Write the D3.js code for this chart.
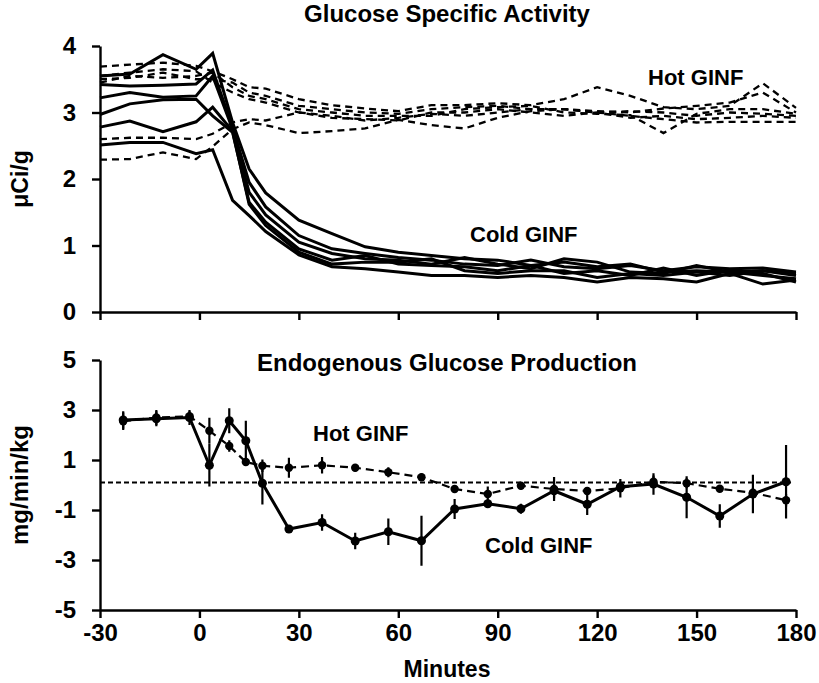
<!DOCTYPE html>
<html>
<head>
<meta charset="utf-8">
<script src="https://cdn.jsdelivr.net/npm/d3@7"></script>
<style>
  html, body { margin: 0; padding: 0; background: #fff; }
  svg { display: block; }
  text { font-family: "Liberation Sans", Arial, Helvetica, sans-serif; font-weight: bold; fill: #000; }
</style>
</head>
<body>
<svg id="chart" width="819" height="683"></svg>
<script>
// ---------- DATA ----------
// Top panel: Glucose specific activity (µCi/g), individual subjects
const saTimes = [-30, -21, -11, -1, 4, 10, 15, 20, 30, 40, 50, 60, 70, 80, 90, 100, 110, 120, 130, 140, 150, 160, 170, 180];
const cold1 = [3.55, 3.58, 3.87, 3.65, 3.89, 2.85, 2.15, 1.79, 1.38, 1.18, 0.98, 0.90, 0.85, 0.80, 0.78, 0.70, 0.75, 0.68, 0.72, 0.60, 0.62, 0.60, 0.62, 0.58];
const cold2 = [3.42, 3.40, 3.41, 3.43, 3.64, 2.78, 1.95, 1.58, 1.15, 0.95, 0.88, 0.82, 0.78, 0.72, 0.70, 0.78, 0.68, 0.65, 0.70, 0.62, 0.68, 0.65, 0.66, 0.60];
const cold3 = [3.22, 3.30, 3.23, 3.25, 3.55, 2.75, 1.80, 1.46, 1.05, 0.88, 0.80, 0.78, 0.72, 0.82, 0.72, 0.65, 0.80, 0.75, 0.60, 0.58, 0.70, 0.60, 0.55, 0.50];
const cold4 = [2.97, 3.13, 3.19, 3.20, 2.95, 2.70, 1.65, 1.35, 0.95, 0.78, 0.85, 0.72, 0.70, 0.68, 0.62, 0.70, 0.58, 0.62, 0.55, 0.66, 0.55, 0.63, 0.58, 0.45];
const cold5 = [2.78, 2.87, 2.71, 2.86, 3.08, 2.72, 1.62, 1.30, 0.90, 0.72, 0.75, 0.75, 0.80, 0.62, 0.58, 0.62, 0.62, 0.52, 0.58, 0.55, 0.60, 0.55, 0.62, 0.55];
const cold6 = [2.51, 2.55, 2.55, 2.38, 2.44, 1.68, 1.45, 1.21, 0.86, 0.68, 0.65, 0.60, 0.55, 0.55, 0.52, 0.55, 0.52, 0.45, 0.52, 0.50, 0.45, 0.58, 0.42, 0.48];
const hot1 = [3.69, 3.72, 3.75, 3.70, 3.62, 3.50, 3.38, 3.36, 3.20, 3.11, 3.06, 3.02, 3.11, 3.11, 3.14, 3.11, 3.20, 3.38, 3.25, 3.08, 3.05, 3.10, 3.44, 3.07];
const hot2 = [3.50, 3.52, 3.60, 3.50, 3.50, 3.45, 3.30, 3.25, 3.10, 3.05, 3.00, 2.98, 3.05, 3.08, 3.10, 3.05, 3.05, 3.02, 3.00, 3.06, 3.10, 3.15, 3.30, 3.00];
const hot3 = [3.45, 3.55, 3.52, 3.55, 3.60, 3.38, 3.25, 3.20, 3.05, 3.00, 2.95, 2.95, 2.95, 3.05, 3.08, 3.10, 3.00, 2.98, 2.96, 2.69, 2.98, 3.05, 3.05, 2.98];
const hot4 = [2.60, 2.62, 2.62, 2.60, 2.68, 2.85, 2.90, 2.88, 3.00, 2.95, 2.88, 2.92, 2.98, 2.95, 3.00, 3.05, 3.05, 3.00, 3.02, 3.00, 2.95, 3.00, 2.98, 2.95];
const hot5 = [2.29, 2.30, 2.40, 2.30, 2.49, 2.75, 2.85, 2.81, 2.69, 2.72, 2.76, 2.89, 2.81, 2.76, 2.92, 3.02, 3.05, 3.00, 2.95, 2.90, 2.85, 2.86, 2.86, 2.86];
const hot6 = [3.55, 3.60, 3.65, 3.62, 3.45, 3.30, 3.20, 3.15, 3.00, 2.92, 2.90, 2.88, 3.00, 3.00, 3.05, 3.00, 2.95, 3.00, 2.92, 2.95, 2.90, 2.92, 2.95, 2.92];

// Bottom panel: Endogenous glucose production (mg/min/kg), mean ± SE
const egpTimes = [-23, -13, -3, 3, 9, 14, 19, 27, 37, 47, 57, 67, 77, 87, 97, 107, 117, 127, 137, 147, 157, 167, 177];
const egpCold = [2.6, 2.65, 2.7, 0.79, 2.57, 1.77, 0.07, -1.76, -1.5, -2.24, -1.87, -2.23, -0.96, -0.75, -0.95, -0.23, -0.77, -0.07, 0.04, -0.49, -1.24, -0.36, 0.13];
const egpColdErr = [0.35, 0.3, 0.3, 0.85, 0.5, 0.8, 0.85, 0.1, 0.33, 0.33, 0.53, 1.0, 0.4, 0.15, 0.2, 0.3, 0.43, 0.2, 0.43, 0.84, 0.47, 0.77, 1.47];
const egpHot = [2.55, 2.7, 2.75, 2.17, 1.56, 0.92, 0.77, 0.69, 0.79, 0.69, 0.51, 0.31, -0.16, -0.36, -0.03, -0.16, -0.24, -0.13, 0.13, 0.07, -0.15, -0.31, -0.61];
const egpHotErr = [0.35, 0.3, 0.2, 0.52, 0.23, 0.1, 0.25, 0.4, 0.33, 0.15, 0.2, 0.15, 0.15, 0.3, 0.15, 0.48, 0.15, 0.37, 0.25, 0.2, 0.1, 0.2, 0.25];
const egpRefLine = 0.1;

// Ticks and labels
const xTicks = [-30, 0, 30, 60, 90, 120, 150, 180];
const topYTicks = [0, 1, 2, 3, 4];
const bottomYTicks = [-5, -3, -1, 1, 3, 5];
const topTitle = "Glucose Specific Activity";
const bottomTitle = "Endogenous Glucose Production";
const topYLabel = "μCi/g";
const bottomYLabel = "mg/min/kg";
const xLabel = "Minutes";
const hotLabel = "Hot GINF";
const coldLabel = "Cold GINF";

// ---------- DRAW ----------
const svg = d3.select("#chart");
const x = d3.scaleLinear().domain([-30, 180]).range([100, 796]);
const yTop = d3.scaleLinear().domain([0, 4]).range([312, 46]);
const yBot = d3.scaleLinear().domain([-5, 5]).range([610, 360]);

function styleAxis(g) {
  g.select(".domain").attr("stroke", "#000").attr("stroke-width", 2.4);
  g.selectAll(".tick line").attr("stroke", "#000").attr("stroke-width", 2.4);
  g.selectAll(".tick text").style("font-size", "24px").style("font-weight", "bold")
    .style("font-family", '"Liberation Sans", Arial, sans-serif').attr("fill", "#000");
}

// Top panel axes
svg.append("g").attr("transform", "translate(0,312)")
  .call(d3.axisBottom(x).tickValues(xTicks).tickSize(8).tickSizeOuter(0).tickFormat(""))
  .call(styleAxis);
svg.append("g").attr("transform", "translate(100,0)")
  .call(d3.axisLeft(yTop).tickValues(topYTicks).tickSize(8).tickSizeOuter(0).tickPadding(16).tickFormat(d => String(d)))
  .call(styleAxis);

// Bottom panel axes
svg.append("g").attr("transform", "translate(0,610)")
  .call(d3.axisBottom(x).tickValues(xTicks).tickSize(8).tickSizeOuter(0).tickPadding(6).tickFormat(d => String(d)))
  .call(styleAxis);
svg.append("g").attr("transform", "translate(100,0)")
  .call(d3.axisLeft(yBot).tickValues(bottomYTicks).tickSize(8).tickSizeOuter(0).tickPadding(16).tickFormat(d => String(d)))
  .call(styleAxis);

// Top panel lines
const lineTop = d3.line().x((d, i) => x(saTimes[i])).y(d => yTop(d));
[hot1, hot2, hot3, hot4, hot5, hot6].forEach(s => {
  svg.append("path").datum(s).attr("d", lineTop)
    .attr("fill", "none").attr("stroke", "#000").attr("stroke-width", 2.3)
    .attr("stroke-dasharray", "7,5");
});
[cold1, cold2, cold3, cold4, cold5, cold6].forEach(s => {
  svg.append("path").datum(s).attr("d", lineTop)
    .attr("fill", "none").attr("stroke", "#000").attr("stroke-width", 3)
    .attr("stroke-linejoin", "miter");
});

// Bottom panel reference line
svg.append("line")
  .attr("x1", x(-30)).attr("x2", x(178.5))
  .attr("y1", yBot(egpRefLine)).attr("y2", yBot(egpRefLine))
  .attr("stroke", "#000").attr("stroke-width", 1.8).attr("stroke-dasharray", "5,3");

const lineBot = d3.line().x(d => x(d.t)).y(d => yBot(d.v));
const hotData = egpTimes.map((t, i) => ({ t, v: egpHot[i], e: egpHotErr[i] }));
const coldData = egpTimes.map((t, i) => ({ t, v: egpCold[i], e: egpColdErr[i] }));

// error bars
function errBars(data) {
  svg.append("g").selectAll("line").data(data).join("line")
    .attr("x1", d => x(d.t)).attr("x2", d => x(d.t))
    .attr("y1", d => yBot(d.v - d.e)).attr("y2", d => yBot(d.v + d.e))
    .attr("stroke", "#000").attr("stroke-width", 2.2);
}
errBars(hotData);
errBars(coldData);

svg.append("path").datum(hotData).attr("d", lineBot)
  .attr("fill", "none").attr("stroke", "#000").attr("stroke-width", 2.2).attr("stroke-dasharray", "8,5");
svg.append("path").datum(coldData).attr("d", lineBot)
  .attr("fill", "none").attr("stroke", "#000").attr("stroke-width", 3);

svg.append("g").selectAll("circle").data(hotData).join("circle")
  .attr("cx", d => x(d.t)).attr("cy", d => yBot(d.v)).attr("r", 4.2).attr("fill", "#000");
svg.append("g").selectAll("circle").data(coldData).join("circle")
  .attr("cx", d => x(d.t)).attr("cy", d => yBot(d.v)).attr("r", 4.5).attr("fill", "#000");

// Titles and labels
svg.append("text").attr("x", 447).attr("y", 22).attr("text-anchor", "middle")
  .style("font-size", "24px").text(topTitle);
svg.append("text").attr("x", 447).attr("y", 371).attr("text-anchor", "middle")
  .style("font-size", "24px").text(bottomTitle);
svg.append("text").attr("transform", "translate(28,179) rotate(-90)").attr("text-anchor", "middle")
  .style("font-size", "23px").text(topYLabel);
svg.append("text").attr("transform", "translate(28,485) rotate(-90)").attr("text-anchor", "middle")
  .style("font-size", "24px").text(bottomYLabel);
svg.append("text").attr("x", 447).attr("y", 677).attr("text-anchor", "middle")
  .style("font-size", "23px").text(xLabel);

svg.append("text").attr("x", 648).attr("y", 85).style("font-size", "22px").text(hotLabel);
svg.append("text").attr("x", 470).attr("y", 242).style("font-size", "22px").text(coldLabel);
svg.append("text").attr("x", 313).attr("y", 441).style("font-size", "22px").text(hotLabel);
svg.append("text").attr("x", 485).attr("y", 553).style("font-size", "22px").text(coldLabel);
</script>
</body>
</html>
